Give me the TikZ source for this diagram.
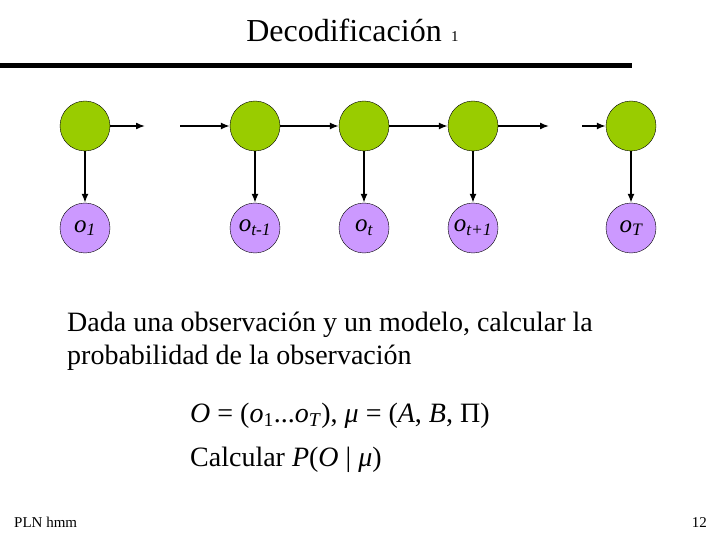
\documentclass[tikz,border=0pt]{standalone}
\usepackage{fontspec}
\setmainfont{Liberation Serif}
\usetikzlibrary{arrows.meta}
\definecolor{verde}{RGB}{153,204,0}
\definecolor{lila}{RGB}{204,153,255}
\tikzset{
  estado/.style={circle, draw, fill=verde, minimum size=50pt, inner sep=0pt},
  obs/.style={circle, draw, fill=lila, minimum size=50pt, inner sep=0pt, font=\fontsize{25}{27}\selectfont\itshape},
  flecha/.style={-{Latex[length=9pt,width=7pt]}, line width=1.5pt},
  texto/.style={anchor=base west, inner sep=0pt, font=\fontsize{28}{32}\selectfont}
}
\begin{document}
\begin{tikzpicture}[x=1pt, y=-1pt]
        \useasboundingbox (0,0) rectangle (720,540);

        \node[anchor=base, inner sep=0pt, font=\fontsize{32}{34}\selectfont] (titulo) at (344,42) {Decodificación};
        \node[anchor=base west, inner sep=0pt, font=\fontsize{15}{16}\selectfont] (num) at (451,42) {1};
        \draw[line width=5pt] (0,66) -- (632,66);

        \node[estado] (S1) at (85,126) {};
        \node[estado] (S2) at (255,126) {};
        \node[estado] (S3) at (364,126) {};
        \node[estado] (S4) at (473,126) {};
        \node[estado] (S5) at (631,126) {};

        \node[obs] (O1) at (85,228) {o\textsubscript{1}};
        \node[obs] (O2) at (255,228) {o\textsubscript{t-1}};
        \node[obs] (O3) at (364,228) {o\textsubscript{t}};
        \node[obs] (O4) at (473,228) {o\textsubscript{t+1}};
        \node[obs] (O5) at (631,228) {o\textsubscript{T}};

        \coordinate (a1) at (145,126);
        \coordinate (a2) at (180,126);
        \coordinate (a3) at (549,126);
        \coordinate (a4) at (582,126);

        \draw[flecha] (S1) -- (a1);
        \draw[flecha] (a2) -- (S2);
        \draw[flecha] (S2) -- (S3);
        \draw[flecha] (S3) -- (S4);
        \draw[flecha] (S4) -- (a3);
        \draw[flecha] (a4) -- (S5);

        \draw[flecha] (S1) -- (O1);
        \draw[flecha] (S2) -- (O2);
        \draw[flecha] (S3) -- (O3);
        \draw[flecha] (S4) -- (O4);
        \draw[flecha] (S5) -- (O5);

        \node[texto] (linea1) at (67,331) {Dada una observación y un modelo, calcular la};
        \node[texto] (linea2) at (67,364) {probabilidad de la observación};

        \node[texto] (form1) at (190,422) {\textit{O} = (\textit{o}\textsubscript{1}...\textit{o}\textsubscript{\textit{T}}), \textit{μ} = (\textit{A}, \textit{B}, Π)};
        \node[texto] (form2) at (190,466) {Calcular \textit{P}(\textit{O} | \textit{μ})};

        \node[anchor=base west, inner sep=0pt, font=\fontsize{15}{16}\selectfont] (pie) at (14,527) {PLN hmm};
        \node[anchor=base east, inner sep=0pt, font=\fontsize{15}{16}\selectfont] (pag) at (707,527) {12};
    \end{tikzpicture}
\end{document}
